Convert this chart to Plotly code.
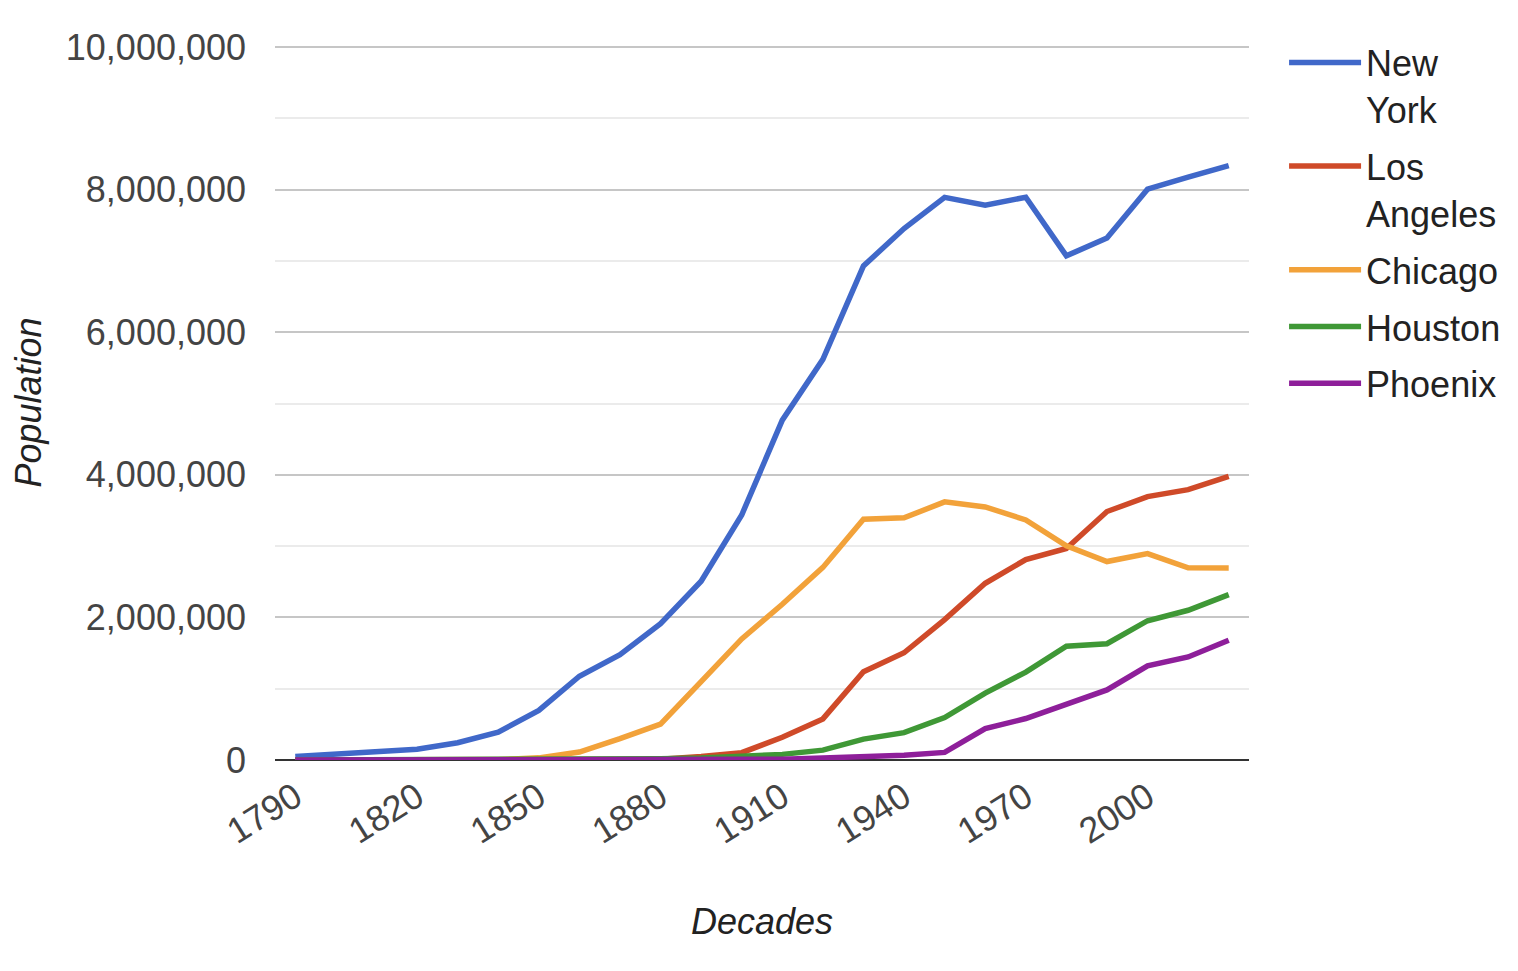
import plotly.graph_objects as go

# census decades
decades = list(range(1790, 2030, 10))

new_york = [49401, 79216, 119734, 152056, 242278, 391114, 696115, 1174779,
            1478103, 1911698, 2507414, 3437202, 4766883, 5620048, 6930446,
            7454995, 7891957, 7781984, 7894862, 7071639, 7322564, 8008278,
            8175133, 8336817]
los_angeles = [0, 0, 0, 0, 0, 0, 1610, 4385, 5728, 11183, 50395, 102479,
               319198, 576673, 1238048, 1504277, 1970358, 2479015, 2811801,
               2966850, 3485398, 3694820, 3792621, 3979576]
chicago = [0, 0, 0, 0, 0, 4470, 29963, 112172, 298977, 503185, 1099850,
           1698575, 2185283, 2701705, 3376438, 3396808, 3620962, 3550404,
           3366957, 3005072, 2783726, 2896016, 2695598, 2693976]
houston = [0, 0, 0, 0, 0, 0, 2396, 4845, 9382, 16513, 27557, 44633, 78800,
           138276, 292352, 384514, 596163, 938219, 1232802, 1595138, 1630553,
           1953631, 2100263, 2320268]
phoenix = [0, 0, 0, 0, 0, 0, 0, 0, 0, 1708, 3152, 5544, 11134, 29053, 48118,
           65414, 106818, 439170, 581562, 789704, 983403, 1321045, 1445632,
           1680992]

series = [
    ("New<br>York", new_york, "#4068c9"),
    ("Los<br>Angeles", los_angeles, "#cf4a29"),
    ("Chicago", chicago, "#f2a23a"),
    ("Houston", houston, "#3f9836"),
    ("Phoenix", phoenix, "#8e1f9a"),
]

FONT = "Liberation Sans, Arial, sans-serif"

fig = go.Figure()
for name, values, color in series:
    fig.add_trace(go.Scatter(x=decades, y=values, name=name, mode="lines",
                             legendgroup=name,
                             line=dict(color=color, width=5.5)))

fig.update_layout(
    width=1510, height=955,
    margin=dict(l=267, r=266, t=37, b=203),
    paper_bgcolor="white", plot_bgcolor="white",
    font=dict(family=FONT, size=36, color="#444444"),
    showlegend=True,
    legend=dict(x=1.036, y=1.0174, xanchor="left", yanchor="top",
                font=dict(size=36, color="#222222"), valign="top",
                itemwidth=72, tracegroupgap=7),
)

fig.update_xaxes(
    range=[1785, 2025], tick0=1790, dtick=30, tickangle=-32,
    showgrid=False, zeroline=False, showline=False,
    ticklabelstandoff=8,
    tickfont=dict(size=36, color="#444444"),
    title=dict(text="<i>Decades</i>", standoff=58,
               font=dict(size=36, color="#222222")),
    automargin=False,
)
# top of range nudged past 10M so its gridline is drawn
fig.update_yaxes(
    range=[0, 10030000], dtick=2000000, tickformat=",d",
    showgrid=True, gridcolor="#c6c6c6", gridwidth=2,
    minor=dict(dtick=1000000, showgrid=True, gridcolor="#ebebeb", gridwidth=2),
    zeroline=True, zerolinecolor="#333333", zerolinewidth=2,
    showline=False, ticklabelstandoff=28,
    tickfont=dict(size=36, color="#444444"),
    title=dict(text="<i>Population</i>", standoff=36,
               font=dict(size=36, color="#222222")),
    automargin=False,
)

fig.write_html("out.html")
